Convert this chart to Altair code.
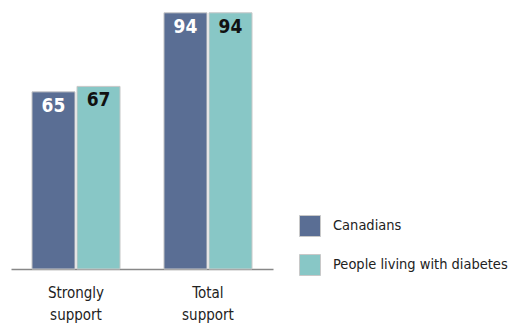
import altair as alt
import pandas as pd

categories = ["Strongly support", "Total support"]
series = ["Canadians", "People living with diabetes"]
canadians = [65, 94]
diabetes = [67, 94]

rows = []
for i, c in enumerate(categories):
    rows.append({"category": c, "series": series[0], "value": canadians[i]})
    rows.append({"category": c, "series": series[1], "value": diabetes[i]})
df = pd.DataFrame(rows)

FONT = "'DejaVu Sans Condensed', 'Liberation Sans Narrow', Roboto, sans-serif"
colors = ["#5a6e94", "#88c7c6"]

base = alt.Chart(df).encode(
    x=alt.X("category:N", sort=categories, title=None,
            scale=alt.Scale(paddingInner=0.333, paddingOuter=0.159),
            axis=alt.Axis(labelAngle=0, ticks=False, domainColor="#888888", domainWidth=1.5,
                          labelFont=FONT, labelFontSize=15, labelColor="#222222",
                          labelPadding=16, labelLineHeight=22,
                          labelExpr="split(datum.label, ' ')")),
    xOffset=alt.XOffset("series:N", sort=series, scale=alt.Scale(paddingInner=0.045)),
    y=alt.Y("value:Q", scale=alt.Scale(domain=[0, 98.7], nice=False), axis=None),
)

bars = base.mark_bar(stroke="#c8c8c8", strokeWidth=1).encode(
    color=alt.Color("series:N", sort=series, title=None,
                    scale=alt.Scale(domain=series, range=colors),
                    legend=alt.Legend(orient="none", legendX=288, legendY=215,
                                      symbolType="square", symbolSize=441,
                                      symbolStrokeColor="#c8c8c8", symbolStrokeWidth=1,
                                      labelFont=FONT, labelFontSize=14.5, labelColor="#222222",
                                      labelLimit=400,
                                      labelOffset=12, rowPadding=13, padding=0))
)

labels = base.mark_text(font=FONT, fontSize=19, fontWeight="bold", baseline="middle", dy=14).encode(
    text="value:Q",
    color=alt.condition(alt.datum.series == "Canadians", alt.value("white"), alt.value("#111111")),
)

chart = alt.layer(bars, labels).properties(
    width=262, height=269,
    autosize=alt.AutoSizeParams(type="none"),
    padding={"left": 11, "top": 0, "right": 240, "bottom": 57},
).configure_view(stroke=None)

chart.save("out.html", embed_options={"renderer": "svg", "actions": False})
